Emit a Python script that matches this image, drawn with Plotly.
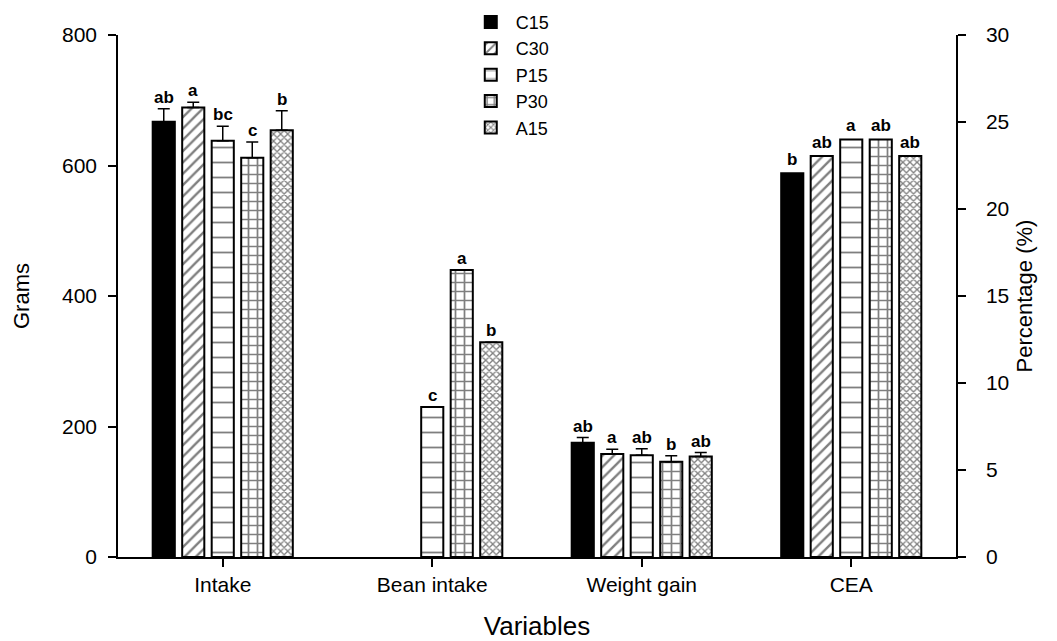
import plotly.graph_objects as go

categories = ["Intake", "Bean intake", "Weight gain", "CEA"]
series = ["C15", "C30", "P15", "P30", "A15"]

# grams (Intake, Bean intake, Weight gain); None = not present
gram_vals = {
    "C15": [667, None, 175],
    "C30": [689, None, 158],
    "P15": [638, 230, 156],
    "P30": [612, 440, 146],
    "A15": [654, 329, 154],
}
gram_err = {
    "C15": [20, 0, 8],
    "C30": [8, 0, 7],
    "P15": [22, 0, 10],
    "P30": [24, 0, 9],
    "A15": [30, 0, 6],
}
gram_letters = {
    "C15": ["ab", "", "ab"],
    "C30": ["a", "", "a"],
    "P15": ["bc", "c", "ab"],
    "P30": ["c", "a", "b"],
    "A15": ["b", "b", "ab"],
}
# CEA, percent
cea_vals = {"C15": 22.05, "C30": 23.05, "P15": 24.0, "P30": 24.0, "A15": 23.05}
cea_letters = {"C15": "b", "C30": "ab", "P15": "a", "P30": "ab", "A15": "ab"}

y_ticks = [0, 200, 400, 600, 800]
y2_ticks = [0, 5, 10, 15, 20, 25, 30]

styles = {
    "C15": dict(color="black", pattern=dict(shape="")),
    "C30": dict(color="white", pattern=dict(shape="/", fgcolor="black", bgcolor="white", size=8, solidity=0.3)),
    "P15": dict(color="white", pattern=dict(shape="-", fgcolor="black", bgcolor="white", size=15, solidity=0.12)),
    "P30": dict(color="white", pattern=dict(shape="+", fgcolor="black", bgcolor="white", size=9, solidity=0.35)),
    "A15": dict(color="white", pattern=dict(shape="x", fgcolor="black", bgcolor="white", size=5, solidity=0.45)),
}

FONT = "Liberation Sans, Arial, sans-serif"
fig = go.Figure()
slot = 29.5
for i, s in enumerate(series):
    st = styles[s]
    fig.add_trace(go.Bar(
        name=s, x=categories[:3], y=gram_vals[s], offsetgroup=s,
        marker=dict(color=st["color"], pattern=st["pattern"], line=dict(color="black", width=2)),
        error_y=dict(type="data", array=gram_err[s], arrayminus=[0, 0, 0], symmetric=False,
                     color="black", thickness=1.5, width=6, visible=True),
        yaxis="y", showlegend=True,
    ))
    fig.add_trace(go.Bar(
        name=s, x=[categories[3]], y=[cea_vals[s]], offsetgroup=s,
        marker=dict(color=st["color"], pattern=st["pattern"], line=dict(color="black", width=2)),
        yaxis="y2", showlegend=False,
    ))
    for j in range(3):
        v = gram_vals[s][j]
        if v is None or gram_letters[s][j] == "":
            continue
        fig.add_annotation(x=categories[j], y=v + gram_err[s][j], xref="x", yref="y",
                           text="<b>%s</b>" % gram_letters[s][j], showarrow=False,
                           xshift=(i - 2) * slot, yshift=0, yanchor="bottom",
                           font=dict(family=FONT, size=17, color="black"))
    fig.add_annotation(x=categories[3], y=cea_vals[s], xref="x", yref="y2",
                       text="<b>%s</b>" % cea_letters[s], showarrow=False,
                       xshift=(i - 2) * slot, yshift=2, yanchor="bottom",
                       font=dict(family=FONT, size=17, color="black"))

fig.update_layout(
    width=1057, height=641,
    margin=dict(l=118, r=101, t=35, b=84, autoexpand=False),
    paper_bgcolor="white", plot_bgcolor="white",
    barmode="group", bargap=0.296, bargroupgap=0.25,
    font=dict(family=FONT, size=18, color="black"),
    xaxis=dict(showline=True, linecolor="black", linewidth=1.5, ticks="outside",
               ticklen=8, tickwidth=1.5, tickcolor="black", automargin=False,
               title=dict(text="Variables", font=dict(size=26), standoff=22),
               tickfont=dict(size=21), showgrid=False),
    yaxis=dict(range=[0, 800], tickvals=y_ticks, showline=True, linecolor="black", linewidth=1.5,
               ticks="outside", ticklen=8, tickwidth=1.5, tickcolor="black", showgrid=False,
               zeroline=False, ticklabelstandoff=7, automargin=False,
               title=dict(text="Grams", font=dict(size=22), standoff=26),
               tickfont=dict(size=21)),
    yaxis2=dict(range=[0, 30], tickvals=y2_ticks, overlaying="y", side="right", showline=True,
                linecolor="black", linewidth=1.5, ticks="outside", ticklen=8, tickwidth=1.5,
                tickcolor="black", showgrid=False, zeroline=False, ticklabelstandoff=16,
                automargin=False,
                title=dict(text="Percentage (%)", font=dict(size=22), standoff=8),
                tickfont=dict(size=21)),
    legend=dict(x=0.415, y=1.06, xanchor="left", yanchor="top", bgcolor="rgba(0,0,0,0)",
                font=dict(size=18), tracegroupgap=0, itemwidth=40),
)

fig.write_html("out.html")
